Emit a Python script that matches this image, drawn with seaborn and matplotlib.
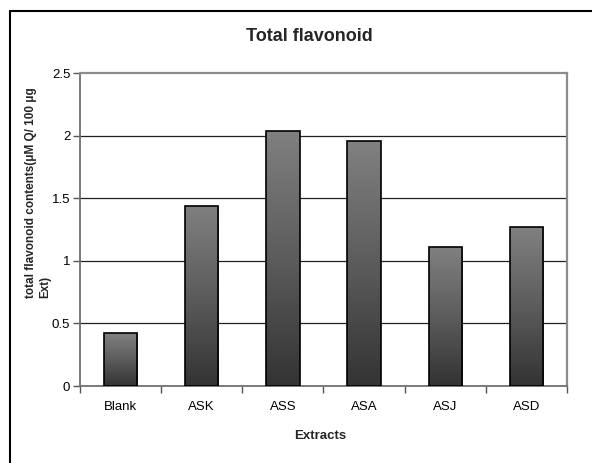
import numpy as np
import matplotlib
matplotlib.use("Agg")
import matplotlib.pyplot as plt
from matplotlib.colors import LinearSegmentedColormap
from matplotlib.lines import Line2D
import seaborn as sns

# Total flavonoid contents per extract
extracts = ["Blank", "ASK", "ASS", "ASA", "ASJ", "ASD"]
flavonoid = [0.42, 1.44, 2.04, 1.955, 1.11, 1.27]
y_ticks = [0, 0.5, 1, 1.5, 2, 2.5]
y_ticklabels = ["0", "0.5", "1", "1.5", "2", "2.5"]

sns.set_theme(style="white")
plt.rcParams["font.family"] = ["Liberation Sans", "DejaVu Sans"]

fig = plt.figure(figsize=(5.92, 4.63), dpi=100)
ax = fig.add_axes([0.1351, 0.1663, 0.8227, 0.676])

sns.barplot(x=extracts, y=flavonoid, width=0.41, color="#606060",
            edgecolor="black", linewidth=1.2, ax=ax, zorder=3)

# Vertical grey gradient inside every bar (dark at the base, lighter at the top)
grad_cmap = LinearSegmentedColormap.from_list("bar_grad", ["#333333", "#5c5c5c", "#808080"])
grad = np.linspace(0, 1, 256).reshape(-1, 1)
for patch in ax.patches:
    x0, w, h = patch.get_x(), patch.get_width(), patch.get_height()
    patch.set_facecolor("none")
    patch.set_zorder(4)
    img = ax.imshow(grad, cmap=grad_cmap, origin="lower", aspect="auto",
                    extent=[x0, x0 + w, 0, h], zorder=3.5)
    img.set_clip_path(patch)

ax.set_xlim(-0.5, len(extracts) - 0.5)
ax.set_ylim(0, 2.5)
ax.set_yticks(y_ticks)
ax.set_yticklabels(y_ticklabels)

# Horizontal gridlines
ax.set_axisbelow(True)
for yv in y_ticks[1:-1]:
    ax.axhline(yv, color="#222222", lw=0.9, zorder=1)

# Category labels at centres, tick marks at category boundaries
ax.set_xticks(range(len(extracts)))
ax.set_xticklabels(extracts)
ax.set_xticks(np.arange(-0.5, len(extracts), 1.0), minor=True)
ax.tick_params(axis="x", which="major", length=0, pad=11, labelsize=9.5, colors="black")
ax.tick_params(axis="x", which="minor", length=5, width=1.0, color="#555555", direction="out", bottom=True)
ax.tick_params(axis="y", which="major", length=5, width=1.0, color="#555555", direction="out",
               left=True, pad=2, labelsize=9.5, labelcolor="black")
ax.set_xlabel("")
ax.set_ylabel("")

for side in ["left", "bottom"]:
    ax.spines[side].set_color("#707070")
    ax.spines[side].set_linewidth(1.3)
for side in ["top", "right"]:
    ax.spines[side].set_color("#8c8c8c")
    ax.spines[side].set_linewidth(1.6)
    ax.spines[side].set_visible(True)

fig.text(0.522, 0.922, "Total flavonoid", ha="center", va="center",
         fontsize=13, fontweight="bold")
fig.text(0.541, 0.058, "Extracts", ha="center", va="center",
         fontsize=9.5, fontweight="bold")
fig.text(0.0645, 0.584, "total flavonoid contents(\u03bcM Q/ 100 \u03bcg\nExt)",
         rotation=90, ha="center", va="center", multialignment="left",
         fontsize=8.5, fontweight="bold", linespacing=1.3)

# Outer frame around the chart
fig.add_artist(Line2D([0.0165, 0.0165], [0.0, 0.9762], transform=fig.transFigure,
                      color="black", lw=1.5))
fig.add_artist(Line2D([0.0165, 1.0], [0.9762, 0.9762], transform=fig.transFigure,
                      color="black", lw=1.5))

fig.savefig("out.png", dpi=100)
